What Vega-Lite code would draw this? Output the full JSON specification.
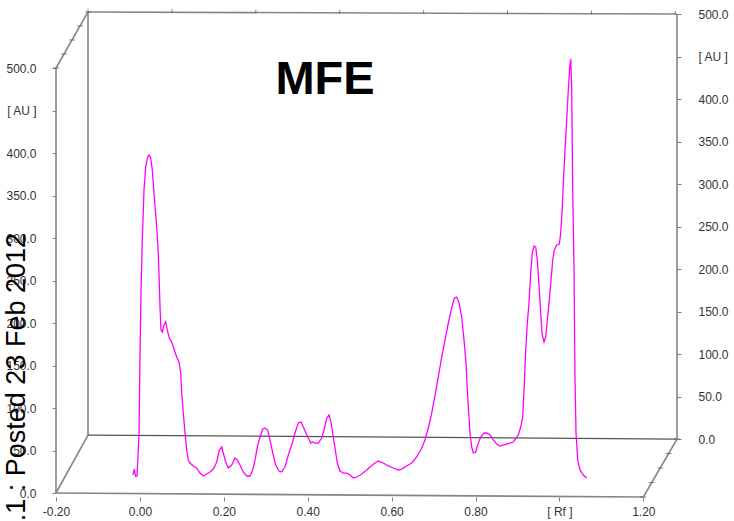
{
  "$schema": "https://vega.github.io/schema/vega-lite/v6.json",
  "width": 621,
  "height": 485,
  "autosize": {"type": "none"},
  "padding": {"left": 56, "top": 12, "right": 57, "bottom": 24},
  "background": "white",
  "config": {
    "view": {"stroke": null},
    "font": "Liberation Sans",
    "axis": {"labelFont": "Liberation Sans", "labelFontSize": 12, "labelColor": "#333333", "tickColor": "#808080", "tickWidth": 1, "grid": false, "domain": false, "labelOverlap": false, "labelFlush": false}
  },
  "datasets": {
    "curve": [
      {"rf": -0.0165, "au": 21.2}, {"rf": -0.0134, "au": 28.2}, {"rf": -0.0105, "au": 20.0}, {"rf": -0.0069, "au": 20.0}, {"rf": -0.0045, "au": 44.7}, {"rf": -0.0021, "au": 70.6}, {"rf": 0.0002, "au": 160.0}, {"rf": 0.0026, "au": 235.3}, {"rf": 0.0057, "au": 297.6}, {"rf": 0.0098, "au": 356.5}, {"rf": 0.0138, "au": 383.5}, {"rf": 0.0186, "au": 395.3}, {"rf": 0.0217, "au": 397.6}, {"rf": 0.0257, "au": 394.1}, {"rf": 0.0296, "au": 380.0}, {"rf": 0.0343, "au": 348.2}, {"rf": 0.04, "au": 312.9}, {"rf": 0.0439, "au": 282.4}, {"rf": 0.0462, "au": 247.1}, {"rf": 0.0479, "au": 218.8}, {"rf": 0.0503, "au": 191.8}, {"rf": 0.0534, "au": 189.4}, {"rf": 0.0575, "au": 197.6}, {"rf": 0.0615, "au": 201.2}, {"rf": 0.0653, "au": 191.8}, {"rf": 0.0701, "au": 182.4}, {"rf": 0.0758, "au": 177.6}, {"rf": 0.082, "au": 168.2}, {"rf": 0.0877, "au": 160.0}, {"rf": 0.0932, "au": 154.1}, {"rf": 0.0973, "au": 141.2}, {"rf": 0.0996, "au": 117.6}, {"rf": 0.1035, "au": 94.1}, {"rf": 0.1075, "au": 70.6}, {"rf": 0.1116, "au": 50.6}, {"rf": 0.1154, "au": 38.8}, {"rf": 0.1194, "au": 35.3}, {"rf": 0.1273, "au": 31.8}, {"rf": 0.1354, "au": 29.4}, {"rf": 0.1433, "au": 23.5}, {"rf": 0.1511, "au": 20.0}, {"rf": 0.1592, "au": 22.4}, {"rf": 0.1671, "au": 24.7}, {"rf": 0.175, "au": 28.2}, {"rf": 0.1831, "au": 36.5}, {"rf": 0.1893, "au": 50.6}, {"rf": 0.195, "au": 54.1}, {"rf": 0.1988, "au": 47.1}, {"rf": 0.2045, "au": 36.5}, {"rf": 0.2107, "au": 29.4}, {"rf": 0.2188, "au": 32.9}, {"rf": 0.2267, "au": 41.2}, {"rf": 0.2322, "au": 38.8}, {"rf": 0.2386, "au": 32.9}, {"rf": 0.2465, "au": 24.7}, {"rf": 0.2546, "au": 20.0}, {"rf": 0.2625, "au": 20.0}, {"rf": 0.2689, "au": 27.1}, {"rf": 0.2744, "au": 38.8}, {"rf": 0.2799, "au": 54.1}, {"rf": 0.2863, "au": 65.9}, {"rf": 0.2927, "au": 75.3}, {"rf": 0.2982, "au": 76.5}, {"rf": 0.3047, "au": 74.1}, {"rf": 0.3101, "au": 62.4}, {"rf": 0.3166, "au": 47.1}, {"rf": 0.3237, "au": 32.9}, {"rf": 0.3316, "au": 25.9}, {"rf": 0.338, "au": 24.7}, {"rf": 0.3459, "au": 30.6}, {"rf": 0.3538, "au": 44.7}, {"rf": 0.3619, "au": 56.5}, {"rf": 0.3697, "au": 70.6}, {"rf": 0.3776, "au": 82.4}, {"rf": 0.384, "au": 83.5}, {"rf": 0.3895, "au": 77.6}, {"rf": 0.396, "au": 70.6}, {"rf": 0.4014, "au": 64.7}, {"rf": 0.4072, "au": 58.8}, {"rf": 0.4119, "au": 60.0}, {"rf": 0.4174, "au": 58.8}, {"rf": 0.4253, "au": 58.8}, {"rf": 0.4334, "au": 64.7}, {"rf": 0.4389, "au": 74.1}, {"rf": 0.4453, "au": 88.2}, {"rf": 0.4508, "au": 91.8}, {"rf": 0.4555, "au": 83.5}, {"rf": 0.4596, "au": 70.6}, {"rf": 0.4651, "au": 52.9}, {"rf": 0.4706, "au": 35.3}, {"rf": 0.477, "au": 25.9}, {"rf": 0.4849, "au": 23.5}, {"rf": 0.493, "au": 23.5}, {"rf": 0.5008, "au": 21.2}, {"rf": 0.5087, "au": 17.6}, {"rf": 0.5168, "au": 18.8}, {"rf": 0.5287, "au": 22.4}, {"rf": 0.5406, "au": 27.1}, {"rf": 0.5485, "au": 30.6}, {"rf": 0.5604, "au": 35.3}, {"rf": 0.5683, "au": 37.6}, {"rf": 0.5802, "au": 35.3}, {"rf": 0.5921, "au": 31.8}, {"rf": 0.6041, "au": 29.4}, {"rf": 0.616, "au": 27.1}, {"rf": 0.6241, "au": 28.2}, {"rf": 0.636, "au": 31.8}, {"rf": 0.6479, "au": 35.3}, {"rf": 0.6598, "au": 42.4}, {"rf": 0.6718, "au": 52.9}, {"rf": 0.6796, "au": 62.4}, {"rf": 0.6875, "au": 76.5}, {"rf": 0.6956, "au": 94.1}, {"rf": 0.7035, "au": 115.3}, {"rf": 0.7113, "au": 136.5}, {"rf": 0.7194, "au": 160.0}, {"rf": 0.7273, "au": 180.0}, {"rf": 0.7352, "au": 200.0}, {"rf": 0.7433, "au": 217.6}, {"rf": 0.7495, "au": 229.4}, {"rf": 0.7552, "au": 230.6}, {"rf": 0.7607, "au": 223.5}, {"rf": 0.7671, "au": 207.1}, {"rf": 0.7726, "au": 180.0}, {"rf": 0.7774, "au": 152.9}, {"rf": 0.7805, "au": 121.2}, {"rf": 0.7838, "au": 94.1}, {"rf": 0.7869, "au": 70.6}, {"rf": 0.7909, "au": 54.1}, {"rf": 0.7948, "au": 47.1}, {"rf": 0.8005, "au": 48.2}, {"rf": 0.8052, "au": 56.5}, {"rf": 0.8124, "au": 65.9}, {"rf": 0.8203, "au": 70.6}, {"rf": 0.8267, "au": 70.6}, {"rf": 0.8346, "au": 68.2}, {"rf": 0.8424, "au": 62.4}, {"rf": 0.8505, "au": 57.6}, {"rf": 0.8584, "au": 55.3}, {"rf": 0.8744, "au": 57.6}, {"rf": 0.8901, "au": 60.0}, {"rf": 0.902, "au": 68.2}, {"rf": 0.9078, "au": 77.6}, {"rf": 0.9125, "au": 89.4}, {"rf": 0.9156, "au": 121.2}, {"rf": 0.9197, "au": 168.2}, {"rf": 0.9235, "au": 200.0}, {"rf": 0.9275, "au": 223.5}, {"rf": 0.9316, "au": 258.8}, {"rf": 0.9354, "au": 282.4}, {"rf": 0.9395, "au": 290.6}, {"rf": 0.9435, "au": 289.4}, {"rf": 0.9473, "au": 274.1}, {"rf": 0.9521, "au": 238.8}, {"rf": 0.9554, "au": 211.8}, {"rf": 0.9585, "au": 188.2}, {"rf": 0.9633, "au": 177.6}, {"rf": 0.9674, "au": 183.5}, {"rf": 0.9712, "au": 203.5}, {"rf": 0.9759, "au": 227.1}, {"rf": 0.98, "au": 250.6}, {"rf": 0.9841, "au": 274.1}, {"rf": 0.9879, "au": 285.9}, {"rf": 0.9936, "au": 291.8}, {"rf": 0.9998, "au": 292.9}, {"rf": 1.0031, "au": 305.9}, {"rf": 1.0069, "au": 336.5}, {"rf": 1.0093, "au": 364.7}, {"rf": 1.0134, "au": 403.5}, {"rf": 1.0174, "au": 438.8}, {"rf": 1.0212, "au": 474.1}, {"rf": 1.0246, "au": 501.2}, {"rf": 1.027, "au": 510.6}, {"rf": 1.0293, "au": 474.1}, {"rf": 1.0317, "au": 356.5}, {"rf": 1.0348, "au": 265.9}, {"rf": 1.0372, "au": 132.9}, {"rf": 1.0396, "au": 70.6}, {"rf": 1.0437, "au": 38.8}, {"rf": 1.0491, "au": 27.1}, {"rf": 1.057, "au": 21.2}, {"rf": 1.0651, "au": 17.6}
    ],
    "front": [
      {"xa": -0.2, "ya": 0, "xb": -0.2, "yb": 500},
      {"xa": -0.2, "ya": 0, "xb": 1.2, "yb": -4.7},
      {"xa": -0.2, "ya": 0, "xb": -0.1237, "yb": 68.2},
      {"xa": -0.2, "ya": 500, "xb": -0.1237, "yb": 566},
      {"xa": 1.2, "ya": -4.7, "xb": 1.2803, "yb": 63.5}
    ],
    "back": [
      {"xa": -0.1237, "ya": 4.7, "xb": -0.1237, "yb": 502.4},
      {"xa": -0.1237, "ya": 502.4, "xb": 1.2803, "yb": 500},
      {"xa": 1.2803, "ya": 0, "xb": 1.2803, "yb": 500}
    ],
    "backbottom": [
      {"xa": -0.1237, "ya": 4.7, "xb": 1.2803, "yb": 0}
    ],
    "backticks": [
      {"xa": -0.1237, "ya": 503.8}, {"xa": 0.0763, "ya": 503.5}, {"xa": 0.2763, "ya": 503.1}, {"xa": 0.4763, "ya": 502.8}, {"xa": 0.6763, "ya": 502.4}, {"xa": 0.8763, "ya": 502.1}, {"xa": 1.0763, "ya": 501.8}, {"xa": 1.2763, "ya": 501.4}
    ],
    "zticks": [
      {"xa": -0.2, "ya": 500}, {"xa": -0.1809, "ya": 516.5}, {"xa": -0.1618, "ya": 533}, {"xa": -0.1428, "ya": 549.5}, {"xa": -0.1237, "ya": 566},
      {"xa": 1.2, "ya": -4.7}, {"xa": 1.2201, "ya": 12.35}, {"xa": 1.2402, "ya": 29.4}, {"xa": 1.2602, "ya": 46.45}, {"xa": 1.2803, "ya": 63.5}
    ],
    "title": [{"label": "MFE", "xa": 0.4412, "ya": 470}],
    "mark": [{"label": "1.1 : Posted 23 Feb 2012", "xa": -0.2739, "ya": 305.9}]
  },
  "layer": [
    {
      "data": {"name": "back"},
      "mark": {"type": "rule", "color": "#858585", "strokeWidth": 1.6},
      "encoding": {
        "x": {"field": "xa", "type": "quantitative", "scale": {"domain": [-0.2, 1.2803], "nice": false, "zero": false}},
        "x2": {"field": "xb"},
        "y": {"field": "ya", "type": "quantitative", "scale": {"domain": [-68.2, 502.4], "nice": false, "zero": false},
          "axis": {"orient": "right", "title": null, "values": [0, 50, 100, 150, 200, 250, 300, 350, 400, 450, 500], "labelExpr": "datum.value == 450 ? '[ AU ]' : format(datum.value, '.1f')", "tickSize": 4, "labelPadding": 17}},
        "y2": {"field": "yb"}
      }
    },
    {
      "data": {"name": "backbottom"},
      "mark": {"type": "rule", "color": "#555555", "strokeWidth": 1.2},
      "encoding": {
        "x": {"field": "xa", "type": "quantitative"},
        "x2": {"field": "xb"},
        "y": {"field": "ya", "type": "quantitative", "scale": {"domain": [-68.2, 502.4], "nice": false, "zero": false}, "axis": null},
        "y2": {"field": "yb"}
      }
    },
    {
      "data": {"name": "backticks"},
      "mark": {"type": "tick", "orient": "vertical", "color": "#555555", "size": 4, "thickness": 1},
      "encoding": {
        "x": {"field": "xa", "type": "quantitative"},
        "y": {"field": "ya", "type": "quantitative", "scale": {"domain": [-68.2, 502.4], "nice": false, "zero": false}, "axis": null}
      }
    },
    {
      "data": {"name": "front"},
      "mark": {"type": "rule", "color": "#858585", "strokeWidth": 1.6},
      "encoding": {
        "x": {"field": "xa", "type": "quantitative", "scale": {"domain": [-0.2, 1.2803], "nice": false, "zero": false},
          "axis": {"orient": "bottom", "title": null, "values": [-0.2, 0, 0.2, 0.4, 0.6, 0.8, 1, 1.2], "labelExpr": "datum.value == 1 ? '[ Rf ]' : (datum.value < 0 ? '-' + format(-datum.value, '.2f') : format(datum.value, '.2f'))", "tickSize": 4, "labelPadding": 5}},
        "x2": {"field": "xb"},
        "y": {"field": "ya", "type": "quantitative", "scale": {"domain": [-4.7, 565.9], "nice": false, "zero": false},
          "axis": {"orient": "left", "title": null, "values": [0, 50, 100, 150, 200, 250, 300, 350, 400, 450, 500], "labelExpr": "datum.value == 450 ? '[ AU ]' : format(datum.value, '.1f')", "tickSize": 4, "labelPadding": 16}},
        "y2": {"field": "yb"}
      }
    },
    {
      "data": {"name": "zticks"},
      "mark": {"type": "tick", "orient": "horizontal", "color": "#555555", "size": 6, "thickness": 1},
      "encoding": {
        "x": {"field": "xa", "type": "quantitative"},
        "y": {"field": "ya", "type": "quantitative", "scale": {"domain": [-4.7, 565.9], "nice": false, "zero": false}, "axis": null}
      }
    },
    {
      "data": {"name": "curve"},
      "mark": {"type": "line", "color": "#ff00ff", "strokeWidth": 1.3},
      "encoding": {
        "x": {"field": "rf", "type": "quantitative"},
        "y": {"field": "au", "type": "quantitative", "scale": {"domain": [-4.7, 565.9], "nice": false, "zero": false}, "axis": null}
      }
    },
    {
      "data": {"name": "title"},
      "mark": {"type": "text", "font": "Liberation Sans", "fontSize": 47, "fontWeight": "bold", "color": "#000000", "align": "center", "baseline": "alphabetic"},
      "encoding": {
        "x": {"field": "xa", "type": "quantitative"},
        "y": {"field": "ya", "type": "quantitative", "scale": {"domain": [-4.7, 565.9], "nice": false, "zero": false}, "axis": null},
        "text": {"field": "label"}
      }
    },
    {
      "data": {"name": "mark"},
      "mark": {"type": "text", "font": "Liberation Sans", "fontSize": 27, "color": "#000000", "angle": 270, "align": "right", "baseline": "alphabetic"},
      "encoding": {
        "x": {"field": "xa", "type": "quantitative"},
        "y": {"field": "ya", "type": "quantitative", "scale": {"domain": [-4.7, 565.9], "nice": false, "zero": false}, "axis": null},
        "text": {"field": "label"}
      }
    }
  ],
  "resolve": {"scale": {"y": "independent"}}
}
